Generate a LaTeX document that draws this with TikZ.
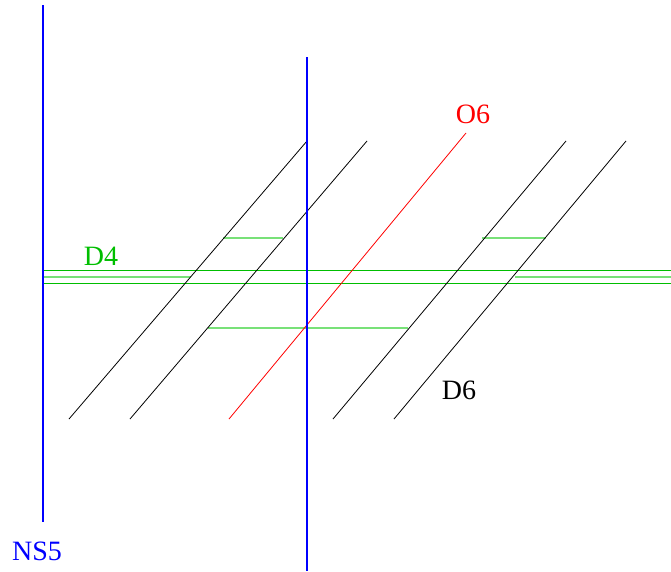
\documentclass[tikz,border=0pt]{standalone}
\usepackage{fontspec}
\setmainfont{Liberation Serif}
\begin{document}
\begin{tikzpicture}[x=1pt,y=-1pt,
  brane/.style={line width=0.8pt},
  ns/.style={blue,line width=1.1pt},
  dfour/.style={draw=dgreen,line width=1pt},
  dfourl/.style={draw=lgreen,line width=2pt},
  lbl/.style={font=\fontsize{28}{32}\selectfont,inner sep=0pt}]
\definecolor{dgreen}{RGB}{0,190,0}
\definecolor{lgreen}{RGB}{120,225,120}
\useasboundingbox (0,0) rectangle (671,571);
% NS5 branes
\coordinate (n1t) at (43,5); \coordinate (n1b) at (43,522);
\coordinate (n2t) at (307,57); \coordinate (n2b) at (307,571);
% D6 / O6 lines
\coordinate (a1) at (69,419); \coordinate (b1) at (307,141);
\coordinate (a2) at (130,419); \coordinate (b2) at (367,141);
\coordinate (a3) at (229,419); \coordinate (b3) at (466,133);
\coordinate (a4) at (333,419); \coordinate (b4) at (566,141);
\coordinate (a5) at (394,419); \coordinate (b5) at (626,141);
% D4 pieces
\coordinate (h1l) at (43,270); \coordinate (h1r) at (671,270);
\coordinate (h3l) at (43,283); \coordinate (h3r) at (671,283);
\coordinate (h2l) at (43,277); \coordinate (h2a) at (191,277);
\coordinate (h2b) at (515,277); \coordinate (h2r) at (671,277);
\coordinate (s1l) at (223,238); \coordinate (s1r) at (283,238);
\coordinate (s2l) at (482,238); \coordinate (s2r) at (546,238);
\coordinate (s3l) at (208,328); \coordinate (s3r) at (408,328);

\draw[dfourl] (h2l) -- (h2a);
\draw[dfourl] (h2b) -- (h2r);
\draw[dfourl] (s1l) -- (s1r);
\draw[dfourl] (s2l) -- (s2r);
\draw[dfourl] (s3l) -- (s3r);
\draw[dfour] (h1l) -- (h1r);
\draw[dfour] (h3l) -- (h3r);

\draw[brane] (a1) -- (b1);
\draw[brane] (a2) -- (b2);
\draw[brane,red] (a3) -- (b3);
\draw[brane] (a4) -- (b4);
\draw[brane] (a5) -- (b5);

\draw[ns] (n1t) -- (n1b);
\draw[ns] (n2t) -- (n2b);

\node[lbl,blue] (ns5) at (37,551) {NS5};
\node[lbl,red] (o6) at (473,114) {O6};
\node[lbl,black] (d6) at (459,390) {D6};
\node[lbl,dgreen] (d4) at (101,256) {D4};
\end{tikzpicture}
\end{document}
